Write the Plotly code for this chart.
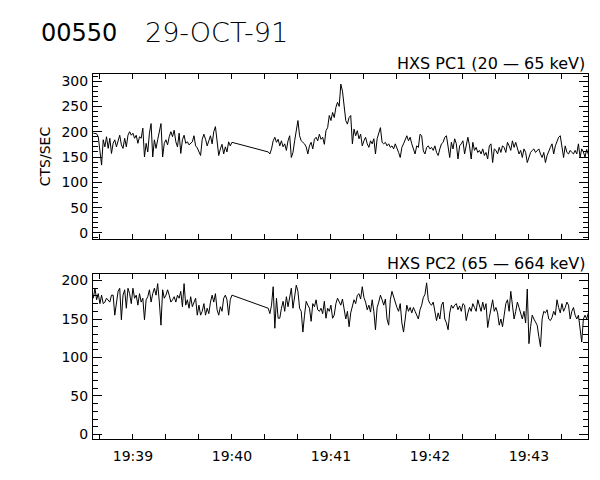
import plotly.graph_objects as go
from plotly.subplots import make_subplots
from datetime import datetime, timedelta

# ---------------- data ----------------
DATE = "1991-10-29"
SEG1_START = "19:38:36"   # first data segment start
SEG2_START = "19:40:22"   # second data segment start (after data gap)
CADENCE_S = 1             # seconds between samples

pc1_seg1 = [197, 197, 196, 190, 155, 134, 184, 170, 190, 167,
            187, 157, 177, 184, 170, 180, 193, 174, 167, 187,
            170, 193, 200, 193, 197, 187, 193, 177, 190, 187,
            207, 150, 177, 160, 197, 216, 150, 184, 167, 184,
            203, 216, 150, 177, 184, 174, 190, 200, 190, 203,
            180, 170, 197, 157, 184, 193, 177, 180, 174, 177,
            180, 192, 172, 168, 160, 153, 185, 195, 185, 172,
            182, 192, 176, 200, 210, 180, 153, 166, 175, 156,
            170, 160, 180, 172, 179]
pc1_seg2 = [160, 156, 166, 182, 189, 179, 185, 172, 182, 170,
            176, 163, 182, 192, 149, 159, 182, 199, 222, 192,
            182, 179, 176, 170, 156, 172, 179, 166, 185, 189,
            182, 195, 185, 189, 175, 202, 208, 232, 222, 238,
            228, 248, 258,
            250, 294, 280, 251, 222, 215, 228, 232, 176, 205,
            192, 202, 186, 195, 172, 182, 189, 176, 169, 182,
            176, 186, 156, 186, 199, 208, 179, 176, 179, 172,
            176, 169, 172, 166, 176, 169, 159, 149, 169, 176,
            186, 192, 182, 189, 176, 166, 156, 172, 169, 195,
            192, 162, 156, 169, 172, 166, 169, 163, 172, 159,
            153, 166, 176, 179, 189, 192, 172, 149, 179, 166,
            186, 176, 146, 172, 176, 182, 156, 176, 189, 172,
            146, 179, 163, 169, 159, 163, 156, 166, 153, 159,
            146, 172, 176, 139, 166, 163, 156, 169, 159, 172,
            169, 159, 179, 172, 163, 182, 169, 179, 166, 156,
            163, 149, 166, 159, 139, 149, 159, 163, 166, 159,
            163, 166, 156, 149, 159, 139, 153, 163, 169, 176,
            156, 172, 182, 189, 192, 172, 149, 172, 159, 156,
            163, 159, 156, 163, 156, 176, 149, 166, 160, 150,
            165, 155]

pc2_seg1 = [177, 190, 175, 183, 170, 181, 170, 172, 177, 175,
            172, 181, 181, 155, 168, 186, 190, 149, 181, 188,
            164, 190, 183, 170, 190, 177, 181, 168, 183, 172,
            177, 149, 175, 179, 188, 172, 183, 190, 181, 196,
            172, 142, 188, 177, 181, 188, 181, 172, 175, 179,
            172, 181, 177, 186, 166, 196, 168, 175, 164, 179,
            166, 172, 177, 155, 168, 155, 160, 170, 155, 164,
            157, 172, 181, 172, 183, 162, 155, 166, 160, 177,
            181, 175, 155, 175, 181]
pc2_seg2 = [164, 157, 168, 192, 138, 177, 151, 151, 164, 173,
            160, 179, 166, 181, 190, 164, 181, 194, 186, 164,
            160, 133, 155, 173, 168, 164, 147, 170, 166, 175,
            162, 160, 164, 157, 173, 151, 164, 160, 168, 151,
            155, 170, 177,
            172, 168, 176, 165, 150, 160, 140, 158, 168, 175,
            170, 181, 183, 176, 192, 178, 172, 162, 168, 159,
            175, 160, 136, 165, 172, 181, 175, 168, 176, 150,
            142, 175, 186, 178, 170, 165, 160, 170, 145, 133,
            150, 168, 160, 165, 158, 165, 160, 155, 150, 162,
            168, 178, 182, 197, 175, 170, 168, 172, 160, 148,
            158, 150, 168, 172, 150, 145, 136, 158, 168, 164,
            168, 170, 162, 167, 160, 170, 168, 148, 158, 165,
            160, 170, 165, 160, 175,
            168, 160, 172, 162, 170, 139, 152, 165, 175, 160,
            165, 158, 142, 150, 140, 155, 170, 175, 160, 186,
            165, 150, 160, 172, 165, 158, 150, 160, 145, 189,
            118, 140, 155, 150, 145, 142, 127, 114, 150, 160,
            158, 162, 150, 148, 152, 160, 155, 175, 165, 158,
            170, 160, 165, 172, 168, 150, 160, 165, 155, 150,
            155, 133, 120, 150, 155, 150, 158]

TITLE_ID = "00550"
TITLE_DATE = "29-OCT-91"
LABEL_PC1 = "HXS PC1 (20 — 65 keV)"
LABEL_PC2 = "HXS PC2 (65 — 664 keV)"
Y_TITLE = "CTS/SEC"
X_RANGE = ["1991-10-29 19:38:35.8", "1991-10-29 19:43:35.8"]
Y1_RANGE = [-12, 314]
Y2_RANGE = [-6, 208.5]


def times(start, n):
    t0 = datetime.strptime(f"{DATE} {start}", "%Y-%m-%d %H:%M:%S")
    return [t0 + timedelta(seconds=CADENCE_S * i) for i in range(n)]


x_pc1 = times(SEG1_START, len(pc1_seg1)) + times(SEG2_START, len(pc1_seg2))
y_pc1 = pc1_seg1 + pc1_seg2
x_pc2 = times(SEG1_START, len(pc2_seg1)) + times(SEG2_START, len(pc2_seg2))
y_pc2 = pc2_seg1 + pc2_seg2

# ---------------- figure ----------------
FONT = "DejaVu Sans"
fig = make_subplots(rows=2, cols=1, shared_xaxes=False, vertical_spacing=0.0)

fig.add_trace(go.Scatter(x=x_pc1, y=y_pc1, mode="lines",
                         line=dict(color="black", width=1), showlegend=False),
              row=1, col=1)
fig.add_trace(go.Scatter(x=x_pc2, y=y_pc2, mode="lines",
                         line=dict(color="black", width=1), showlegend=False),
              row=2, col=1)

xcommon = dict(type="date", range=X_RANGE, showline=True, linecolor="black",
               linewidth=1, mirror="allticks", ticks="inside", ticklen=5,
               tickcolor="black", showgrid=False, zeroline=False,
               automargin=False,
               dtick=60000, tick0="1991-10-29 19:39:00", tickformat="%H:%M",
               minor=dict(dtick=20000, ticks="inside", ticklen=5,
                          tickcolor="black", showgrid=False),
               tickfont=dict(family=FONT, size=14, color="black"))
ycommon = dict(showline=True, linecolor="black", linewidth=1, mirror="allticks",
               ticks="inside", ticklen=9, tickcolor="black", showgrid=False,
               zeroline=False, dtick=50, tick0=0, automargin=False,
               ticklabelstandoff=1,
               minor=dict(dtick=10, ticks="inside", ticklen=5,
                          tickcolor="black", showgrid=False),
               tickfont=dict(family=FONT, size=14, color="black"))

fig.update_xaxes(**xcommon)
fig.update_yaxes(**ycommon)
fig.update_xaxes(showticklabels=False, row=1, col=1)
fig.update_xaxes(showticklabels=True, ticklabelstandoff=4, row=2, col=1)
fig.update_yaxes(range=Y1_RANGE, domain=[0.548, 1.0], row=1, col=1,
                 title=dict(text=Y_TITLE, standoff=7,
                            font=dict(family=FONT, size=14, color="black")))
fig.update_yaxes(range=Y2_RANGE, domain=[0.0, 0.452], row=2, col=1)

# the page body has an 8px margin, so the figure is drawn 8px smaller
PAGE_OFF = 8
W, H = 600 - PAGE_OFF, 480 - PAGE_OFF
ML, MR, MT, MB = 93 - PAGE_OFF, 12, 74 - PAGE_OFF, 41
plot_w = W - ML - MR
plot_h = H - MT - MB


def px_x(px):
    return (px - PAGE_OFF - ML) / plot_w


def px_y(py):
    return (H - MB - (py - PAGE_OFF)) / plot_h


fig.update_layout(
    width=W, height=H,
    margin=dict(l=ML, r=MR, t=MT, b=MB),
    plot_bgcolor="white", paper_bgcolor="white",
    font=dict(family=FONT, color="black"),
)
fig.add_annotation(text=TITLE_ID, xref="paper", yref="paper",
                   x=px_x(39), y=px_y(33), xanchor="left", yanchor="middle",
                   showarrow=False,
                   font=dict(family=FONT, size=24, color="black"))
fig.add_annotation(text=TITLE_DATE, xref="paper", yref="paper",
                   x=px_x(143), y=px_y(33), xanchor="left", yanchor="middle",
                   showarrow=False,
                   font=dict(family=FONT, size=27, color="black", weight=300))
fig.add_annotation(text=LABEL_PC1, xref="paper", yref="paper",
                   x=px_x(586), y=px_y(74), xanchor="right", yanchor="bottom",
                   showarrow=False, borderpad=0,
                   font=dict(family=FONT, size=16, color="black"))
fig.add_annotation(text=LABEL_PC2, xref="paper", yref="paper",
                   x=px_x(586), y=px_y(274), xanchor="right", yanchor="bottom",
                   showarrow=False, borderpad=0,
                   font=dict(family=FONT, size=16, color="black"))

fig.write_html("out.html")
